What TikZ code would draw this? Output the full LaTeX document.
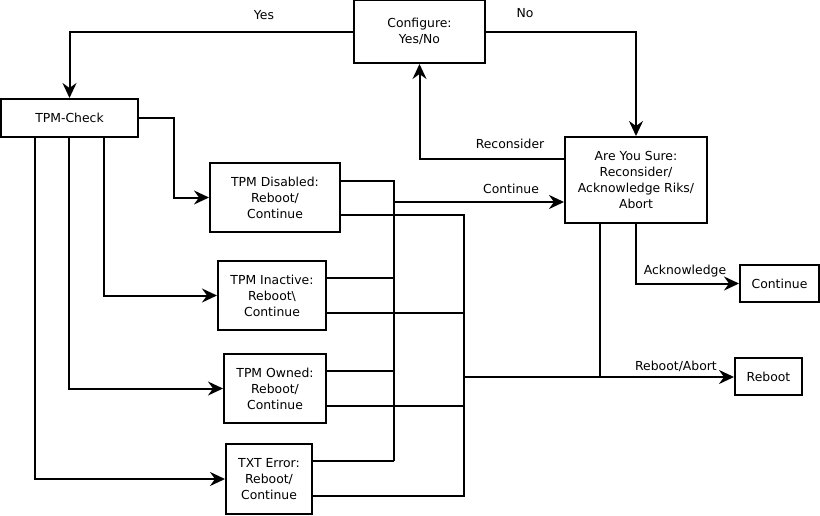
\documentclass[tikz,border=0pt]{standalone}
\usepackage{fontspec}
\setmainfont{DejaVu Sans}
\usetikzlibrary{arrows.meta}
\begin{document}
\begin{tikzpicture}[x=1pt,y=-1pt,
  box/.style={draw,line width=2pt,rectangle,inner sep=0pt,align=center,
    font=\fontsize{12.4pt}{16pt}\selectfont},
  lbl/.style={inner sep=0pt,font=\fontsize{12.4pt}{16pt}\selectfont},
  arr/.style={line width=2pt,-{Stealth[length=15pt,width=14pt,inset=5pt]}},
  bus/.style={line width=1.6pt},
  thk/.style={line width=2.6pt}]
\useasboundingbox (0,0) rectangle (820,515);
\node[box,minimum width=131pt,minimum height=63pt] (cfg) at (419.5,31.5) {Configure:\\Yes/No};
\node[box,minimum width=137pt,minimum height=38pt] (check) at (69.5,118) {TPM-Check};
\node[box,minimum width=142pt,minimum height=86pt] (ays) at (636,180) {Are You Sure:\\Reconsider/\\Acknowledge Riks/\\Abort};
\node[box,minimum width=130pt,minimum height=69pt] (dis) at (275,197.5) {TPM Disabled:\\Reboot/\\Continue};
\node[box,minimum width=108pt,minimum height=69pt] (ina) at (272,295.5) {TPM Inactive:\\Reboot\textbackslash\\Continue};
\node[box,minimum width=102pt,minimum height=69pt] (own) at (275,388.5) {TPM Owned:\\Reboot/\\Continue};
\node[box,minimum width=86pt,minimum height=70pt] (txt) at (269,479) {TXT Error:\\Reboot/\\Continue};
\node[box,minimum width=79pt,minimum height=37pt] (cont) at (779.5,283.5) {Continue};
\node[box,minimum width=67pt,minimum height=37pt] (reb) at (768.5,376.5) {Reboot};

\node[lbl] (lyes) at (264,15) {Yes};
\node[lbl] (lno) at (525,13) {No};
\node[lbl] (lrec) at (510,144) {Reconsider};
\node[lbl] (lcon) at (511,189) {Continue};
\node[lbl] (lack) at (685,271) {Acknowledge};
\node[lbl] (lrab) at (676,366) {Reboot/Abort};

\coordinate (cb) at (394,202);
\coordinate (rb) at (464,377);

% top loop
\draw[arr] (cfg.west) -| (check.north);
\draw[arr] (cfg.east) -| (ays.north);
\draw[arr] (ays.west |- 0,159) -| (cfg.south);
% from TPM-Check
\draw[arr] (check.east) -- (174,118) |- (dis.west);
\draw[arr] (check.south -| 104,0) |- (ina.west);
\draw[arr] (check.south -| 69,0) |- (own.west);
\draw[arr] (check.south -| 35,0) |- (txt.west);
% continue bus
\draw[bus] (dis.east |- 0,181) -| (cb);
\draw[bus] (ina.east |- 0,278) -- (394,278);
\draw[bus] (own.east |- 0,371) -- (394,371);
\draw[bus] (txt.east |- 0,461) -- (394,461);
\draw[thk] (cb) -- (394,461);
\draw[arr,line width=2.6pt] (cb) -- (ays.west |- cb);
% reboot bus
\draw[bus] (dis.east |- 0,215) -| (464,496) -- (txt.east |- 0,496);
\draw[bus] (ina.east |- 0,313) -- (464,313);
\draw[bus] (own.east |- 0,406) -- (464,406);
\draw[arr] (rb) -- (reb.west |- rb);
\draw[bus] (ays.south -| 600,0) -- (600,377);
% acknowledge
\draw[arr] (ays.south) |- (cont.west);
\end{tikzpicture}
\end{document}
